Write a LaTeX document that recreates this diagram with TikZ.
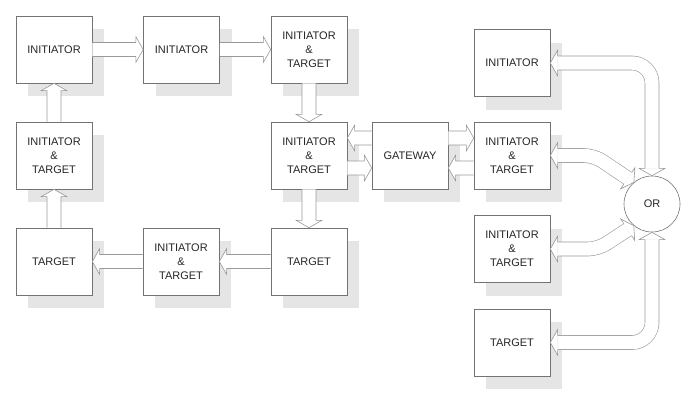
\documentclass[tikz,border=0pt]{standalone}
\usepackage{fontspec}
\setmainfont{Liberation Sans}
\usetikzlibrary{calc,shadows}

\definecolor{framegray}{gray}{0.45}
\definecolor{shadegray}{gray}{0.9}
\definecolor{pipegray}{gray}{0.6}
\definecolor{labelgray}{gray}{0.15}

\tikzset{
	unit/.style={draw=framegray, fill=white, line width=0.6pt, minimum width=76pt, minimum height=67pt, align=center, text=labelgray, font=\fontsize{11}{14}\selectfont, general shadow={fill=shadegray, shadow xshift=12pt, shadow yshift=-13pt}},
	pipe/.style={draw=pipegray, line width=0.6pt, double=white, double distance=13.4pt},
	pipeline/.style={fill=white, draw=pipegray, line width=0.6pt}
}

% hollow arrow from #1 to #2
\newcommand{\hollowlink}[2]{\filldraw[pipeline] ($(#1)!7pt!90:(#2)$) -- ($(#2)!7.3pt!(#1)!7pt!-90:(#1)$) -- ($(#2)!7.3pt!(#1)!12.8pt!-90:(#1)$) -- (#2) -- ($(#2)!7.3pt!(#1)!12.8pt!90:(#1)$) -- ($(#2)!7.3pt!(#1)!7pt!90:(#1)$) -- ($(#1)!7pt!-90:(#2)$);}
% hollow head with tip at #1, coming from #2
\newcommand{\hollowhead}[2]{\filldraw[pipeline] ($(#1)!7.3pt!(#2)!7pt!90:(#2)$) -- ($(#1)!7.3pt!(#2)!12.8pt!90:(#2)$) -- (#1) -- ($(#1)!7.3pt!(#2)!12.8pt!-90:(#2)$) -- ($(#1)!7.3pt!(#2)!7pt!-90:(#2)$);}

\begin{document}
\begin{tikzpicture}[x=1pt, y=-1pt]
		%%%%% START %%%%%
		\useasboundingbox (0, 0) rectangle (700, 400);
		
		\node[unit] (ini1) at (54, 49.5) {INITIATOR};
		\node[unit] (ini2) at (181.5, 49.5) {INITIATOR};
		\node[unit] (it1) at (309, 49.5) {INITIATOR\\\&\\TARGET};
		
		\node[unit] (it2) at (54, 155.5) {INITIATOR\\\&\\TARGET};
		\node[unit] (it3) at (309, 155.5) {INITIATOR\\\&\\TARGET};
		\node[unit] (gw) at (410, 155.5) {GATEWAY};
		\node[unit] (it4) at (512, 155.5) {INITIATOR\\\&\\TARGET};
		
		\node[unit] (tgt1) at (54, 261.5) {TARGET};
		\node[unit] (it5) at (181, 261.5) {INITIATOR\\\&\\TARGET};
		\node[unit] (tgt2) at (309, 261.5) {TARGET};
		
		\node[unit] (ini3) at (512, 63) {INITIATOR};
		\node[unit] (it6) at (512, 249) {INITIATOR\\\&\\TARGET};
		\node[unit] (tgt3) at (512, 342.5) {TARGET};
		
		\node[draw=framegray, line width=0.6pt, circle, minimum size=56pt, text=labelgray, font=\fontsize{11}{14}\selectfont] (orgate) at (652, 204) {OR};
		
		% ring
		\hollowlink{ini1.east}{ini2.west}
		\hollowlink{ini2.east}{it1.west}
		\hollowlink{it1.south}{it3.north}
		\hollowlink{it3.south}{tgt2.north}
		\hollowlink{tgt2.west}{it5.east}
		\hollowlink{it5.west}{tgt1.east}
		\hollowlink{tgt1.north}{it2.south}
		\hollowlink{it2.north}{ini1.south}
		
		% gateway
		\coordinate (gwlu) at ([yshift=17.5pt]gw.west);
		\coordinate (gwld) at ([yshift=-12.5pt]gw.west);
		\coordinate (gwru) at ([yshift=17.5pt]gw.east);
		\coordinate (gwrd) at ([yshift=-12.5pt]gw.east);
		\coordinate (itlu) at ([yshift=17.5pt]it3.east);
		\coordinate (itld) at ([yshift=-12.5pt]it3.east);
		\coordinate (itru) at ([yshift=17.5pt]it4.west);
		\coordinate (itrd) at ([yshift=-12.5pt]it4.west);
		\hollowlink{gwlu}{itlu}
		\hollowlink{itld}{gwld}
		\hollowlink{gwru}{itru}
		\hollowlink{itrd}{gwrd}
		
		% or
		\coordinate (cornA) at (orgate.north |- ini3.east);
		\coordinate (bendB) at (594, 155.5);
		\coordinate (bendC) at (598, 249);
		\coordinate (cornD) at (orgate.south |- tgt3.east);
		
		\draw[pipe, rounded corners=20pt] ($(orgate.north)!7.3pt!(cornA)$) -- (cornA) -- ($(ini3.east)!7.3pt!(cornA)$);
		\hollowhead{orgate.north}{cornA}
		\hollowhead{ini3.east}{cornA}
		
		\draw[pipe, rounded corners=10pt] ($(orgate.130)!7.3pt!(bendB)$) -- (bendB) -- ($(it4.east)!7.3pt!(bendB)$);
		\hollowhead{orgate.130}{bendB}
		\hollowhead{it4.east}{bendB}
		
		\draw[pipe, rounded corners=10pt] ($(orgate.230)!7.3pt!(bendC)$) -- (bendC) -- ($(it6.east)!7.3pt!(bendC)$);
		\hollowhead{orgate.230}{bendC}
		\hollowhead{it6.east}{bendC}
		
		\draw[pipe, rounded corners=20pt] ($(orgate.south)!7.3pt!(cornD)$) -- (cornD) -- ($(tgt3.east)!7.3pt!(cornD)$);
		\hollowhead{orgate.south}{cornD}
		\hollowhead{tgt3.east}{cornD}
		%%%%% END %%%%%
\end{tikzpicture}
\end{document}
